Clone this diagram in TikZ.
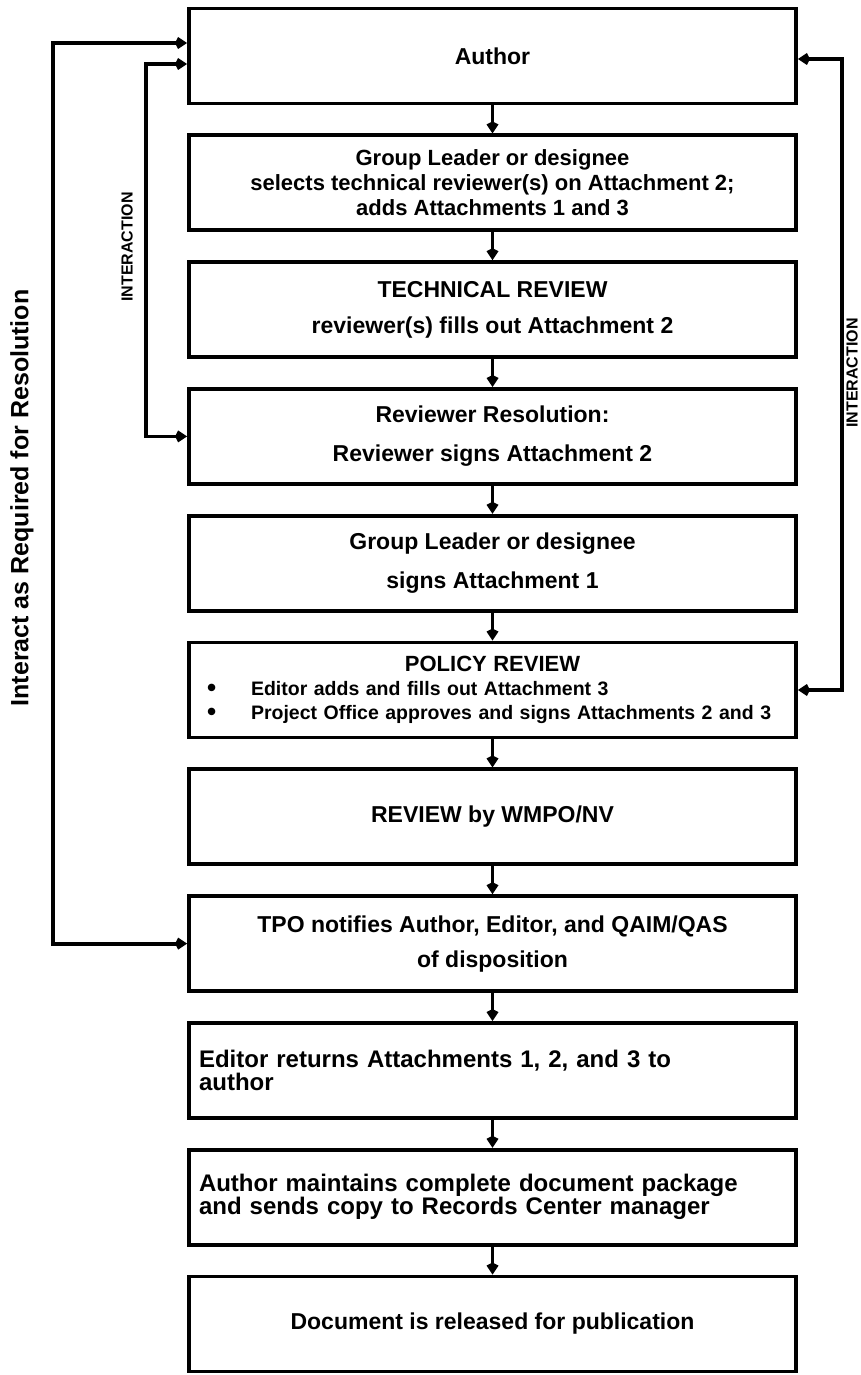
\documentclass[tikz,border=0pt]{standalone}
\usepackage{fontspec}
\setmainfont{Liberation Sans}
\usetikzlibrary{arrows.meta}
\usetikzlibrary{positioning}
\tikzset{stage/.style={
    node distance=28pt,
    rectangle, draw=black, line width=3.8pt,
    minimum width=607pt, minimum height=95pt,
    inner xsep=10pt, align=center,
    font=\bfseries\fontsize{23}{27}\selectfont
}}
\tikzset{left stage/.style={
    stage, align=left, text width=587pt,
    font=\bfseries\fontsize{24}{23}\selectfont
}}
\tikzset{side note/.style={
    rotate=90, inner sep=0pt,
    font=\bfseries\fontsize{25}{25}\selectfont
}}
\tikzset{small note/.style={
    side note,
    font=\bfseries\fontsize{16}{16}\selectfont
}}
\tikzset{flow/.style={->, line width=3.8pt}}
\tikzset{loop back/.style={<->, line width=3.8pt}}
\newcommand{\policyitem}[1]{\hspace*{8pt}\makebox[44pt][l]{\smash{\raisebox{-1pt}{\fontsize{26}{20}\selectfont\textbullet}}}#1}

\begin{document}
\begin{tikzpicture}[x=1pt, y=-1pt, >={Kite[length=12pt,width=12pt]}]
            \useasboundingbox (0,0) rectangle (860,1375);

            \node (author)  [stage] at (492.5,56) {Author};
            \node (leader)  [stage, font=\bfseries\fontsize{22}{25}\selectfont] [below=of author]
                {Group Leader or designee\\ selects technical reviewer(s) on Attachment 2;\\ adds Attachments 1 and 3};
            \node (tech)    [stage] [below=of leader] {TECHNICAL REVIEW\\[9pt] reviewer(s) fills out Attachment 2};
            \node (revres)  [stage] [below=of tech] {Reviewer Resolution:\\[12pt] Reviewer signs Attachment 2};
            \node (signs)   [stage] [below=of revres] {Group Leader or designee\\[12pt] signs Attachment 1};
            \node (policy)  [left stage, font=\bfseries\fontsize{19.5}{24}\selectfont] [below=of signs]
                {\makebox[587pt]{\fontsize{22}{24}\selectfont POLICY REVIEW}\\
                 \policyitem{Editor adds and fills out Attachment 3}\\
                 \policyitem{Project Office approves and signs Attachments 2 and 3}};
            \node (wmpo)    [stage] [below=of policy] {REVIEW by WMPO/NV};
            \node (tpo)     [stage] [below=of wmpo] {TPO notifies Author, Editor, and QAIM/QAS\\[8pt] of disposition};
            \node (returns) [left stage] [below=of tpo] {Editor returns Attachments 1, 2, and 3 to\\ author};
            \node (package) [left stage] [below=of returns]
                {Author maintains complete document package\\ and sends copy to Records Center manager};
            \node (release) [stage] [below=of package] {Document is released for publication};

            \node (resolve) [side note]  at (22,498)  {Interact as Required for Resolution};
            \node (inner)   [small note] at (127,247) {INTERACTION};
            \node (outer)   [small note] at (852,373) {INTERACTION};

            % edges
            \path [flow]
              (author)  edge (leader)
              (leader)  edge (tech)
              (tech)    edge (revres)
              (revres)  edge (signs)
              (signs)   edge (policy)
              (policy)  edge (wmpo)
              (wmpo)    edge (tpo)
              (tpo)     edge (returns)
              (returns) edge (package)
              (package) edge (release)
              ;
            \draw [loop back] ([yshift=13pt]author.west) -- ++(-134,0) |- (tpo.west);
            \draw [loop back] ([yshift=-8pt]author.west) -- ++(-41,0) |- (revres.west);
            \draw [loop back] ([yshift=-3pt]author.east) -- ++(44,0) |- (policy.east);
\end{tikzpicture}
\end{document}
